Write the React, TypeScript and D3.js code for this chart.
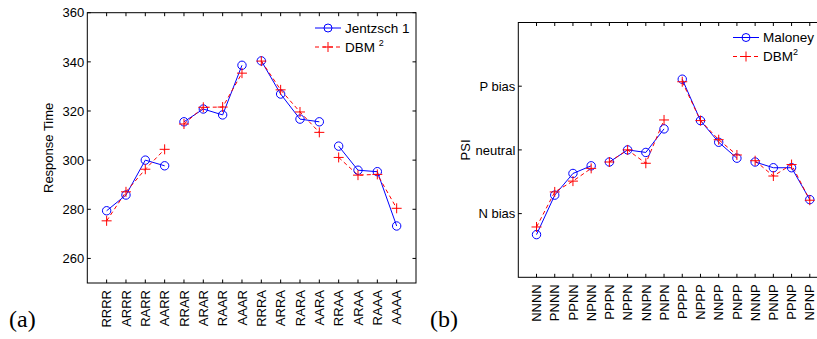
import React from "react";
import * as d3 from "d3";

const catsA = ["RRRR","ARRR","RARR","AARR","RRAR","ARAR","RAAR","AAAR","RRRA","ARRA","RARA","AARA","RRAA","ARAA","RAAA","AAAA"];
const jentzsch = [279.4,285.8,300.0,297.7,315.6,320.8,318.4,338.6,340.4,326.9,316.7,315.6,305.7,295.9,295.3,273.2];
const dbmA = [275.3,287.1,296.3,304.4,314.7,321.5,321.6,335.4,340.3,328.6,319.6,311.3,301.1,293.9,294.2,280.4];
const yTicksA = [260,280,300,320,340,360];

const catsB = ["NNNN","PNNN","PPNN","NPNN","PPPN","NPPN","NNPN","PNPN","PPPP","NPPP","NNPP","PNPP","NNNP","PNNP","PPNP","NPNP"];
const maloney = [-1.33,-0.71,-0.37,-0.25,-0.19,0.0,-0.04,0.33,1.11,0.46,0.12,-0.13,-0.19,-0.28,-0.28,-0.78];
const dbmB = [-1.21,-0.66,-0.49,-0.29,-0.19,0.0,-0.21,0.47,1.07,0.46,0.16,-0.08,-0.17,-0.41,-0.23,-0.79];
const yTicksB = [-1,0,1];
const yTickLabelsB = ["N bias","neutral","P bias"];

const groups = [[0,4],[4,8],[8,12],[12,16]];
const FONT = "Liberation Sans, Arial, Helvetica, sans-serif";
const SERIF = "Liberation Serif, Times New Roman, serif";
const BLUE = "#0000ff";
const RED = "#ff0000";

type PanelProps = {
  cats: string[];
  s1: number[];
  s2: number[];
  yTicks: number[];
  yTickLabels: string[];
  yDomain: [number, number];
  x0: number; x1: number; yTop: number; yBot: number;
  yLabel: string; yLabelX: number;
  legend1: string; legend2Main: string; legend2Sup: string; legendX: number; legendY: number;
  panelLabel: string; panelLabelX: number;
};

function Plus({ x, y }: { x: number; y: number }) {
  const h = 5;
  return (
    <g stroke={RED} strokeWidth={1}>
      <line x1={x - h} x2={x + h} y1={y} y2={y} />
      <line x1={x} x2={x} y1={y - h} y2={y + h} />
    </g>
  );
}

function Panel(p: PanelProps) {
  const x = d3.scaleLinear().domain([0, 17]).range([p.x0, p.x1]);
  const y = d3.scaleLinear().domain(p.yDomain).range([p.yBot, p.yTop]);
  const idx = p.cats.map((_, i) => i);
  const line = (vals: number[]) =>
    d3.line<number>().x((i) => x(i + 1)).y((i) => y(vals[i]));
  const tl = 3.5;
  return (
    <g style={{ fontFamily: FONT }}>
      {groups.map(([a, b], gi) => (
        <path key={"b" + gi} d={line(p.s1)(idx.slice(a, b)) || ""} fill="none" stroke={BLUE} strokeWidth={1} />
      ))}
      {groups.map(([a, b], gi) => (
        <path key={"r" + gi} d={line(p.s2)(idx.slice(a, b)) || ""} fill="none" stroke={RED} strokeWidth={1} strokeDasharray="4,3" />
      ))}
      {p.s1.map((v, i) => (
        <circle key={"c" + i} cx={x(i + 1)} cy={y(v)} r={4.2} fill="none" stroke={BLUE} strokeWidth={1} />
      ))}
      {p.s2.map((v, i) => (
        <Plus key={"p" + i} x={x(i + 1)} y={y(v)} />
      ))}
      <rect x={p.x0} y={p.yTop} width={p.x1 - p.x0} height={p.yBot - p.yTop} fill="none" stroke="#000" strokeWidth={1} />
      {idx.map((i) => (
        <g key={"xt" + i} stroke="#000" strokeWidth={1}>
          <line x1={x(i + 1)} x2={x(i + 1)} y1={p.yBot} y2={p.yBot - tl} />
          <line x1={x(i + 1)} x2={x(i + 1)} y1={p.yTop} y2={p.yTop + tl} />
        </g>
      ))}
      {p.yTicks.map((t, i) => (
        <g key={"yt" + i}>
          <line x1={p.x0} x2={p.x0 + tl} y1={y(t)} y2={y(t)} stroke="#000" />
          <line x1={p.x1} x2={p.x1 - tl} y1={y(t)} y2={y(t)} stroke="#000" />
          <text x={p.x0 - 3} y={y(t)} dy="0.36em" textAnchor="end" fontSize={13} fill="#000">
            {p.yTickLabels[i]}
          </text>
        </g>
      ))}
      {p.cats.map((c, i) => (
        <text key={"xl" + i} transform={`translate(${x(i + 1) + 4.7},${p.yBot + 7}) rotate(-90)`} textAnchor="end" fontSize={13} fill="#000">
          {c}
        </text>
      ))}
      <text transform={`translate(${p.yLabelX},${(p.yTop + p.yBot) / 2}) rotate(-90)`} textAnchor="middle" fontSize={13} fill="#000">
        {p.yLabel}
      </text>
      <g>
        <line x1={p.legendX} x2={p.legendX + 26} y1={p.legendY} y2={p.legendY} stroke={BLUE} strokeWidth={1} />
        <circle cx={p.legendX + 13} cy={p.legendY} r={4} fill="none" stroke={BLUE} />
        <text x={p.legendX + 30} y={p.legendY} dy="0.36em" fontSize={13.5} fill="#000">{p.legend1}</text>
        <line x1={p.legendX} x2={p.legendX + 26} y1={p.legendY + 19} y2={p.legendY + 19} stroke={RED} strokeWidth={1} strokeDasharray="4,3" />
        <Plus x={p.legendX + 13} y={p.legendY + 19} />
        <text x={p.legendX + 30} y={p.legendY + 19} dy="0.36em" fontSize={13.5} fill="#000">
          {p.legend2Main}
          <tspan fontSize={9} dy="-6">{p.legend2Sup}</tspan>
        </text>
      </g>
      <text x={p.panelLabelX} y={327} style={{ fontFamily: SERIF }} fontSize={24} fill="#000">
        {p.panelLabel}
      </text>
    </g>
  );
}

export default function App() {
  return (
    <svg width={817} height={339} style={{ position: "absolute", left: 0, top: 0, background: "#fff" }}>
      <rect width={817} height={339} fill="#fff" />
      <Panel
        cats={catsA} s1={jentzsch} s2={dbmA}
        yTicks={yTicksA} yTickLabels={yTicksA.map(String)} yDomain={[250, 360]}
        x0={87.3} x1={416} yTop={12.7} yBot={283}
        yLabel="Response Time" yLabelX={53}
        legend1="Jentzsch 1" legend2Main="DBM " legend2Sup="2" legendX={315} legendY={28}
        panelLabel="(a)" panelLabelX={9}
      />
      <Panel
        cats={catsB} s1={maloney} s2={dbmB}
        yTicks={yTicksB} yTickLabels={yTickLabelsB} yDomain={[-2, 2]}
        x0={518.3} x1={828} yTop={22.5} yBot={277.3}
        yLabel="PSI" yLabelX={469.5}
        legend1="Maloney 1" legend2Main="DBM" legend2Sup="2" legendX={733} legendY={37.5}
        panelLabel="(b)" panelLabelX={430}
      />
    </svg>
  );
}
